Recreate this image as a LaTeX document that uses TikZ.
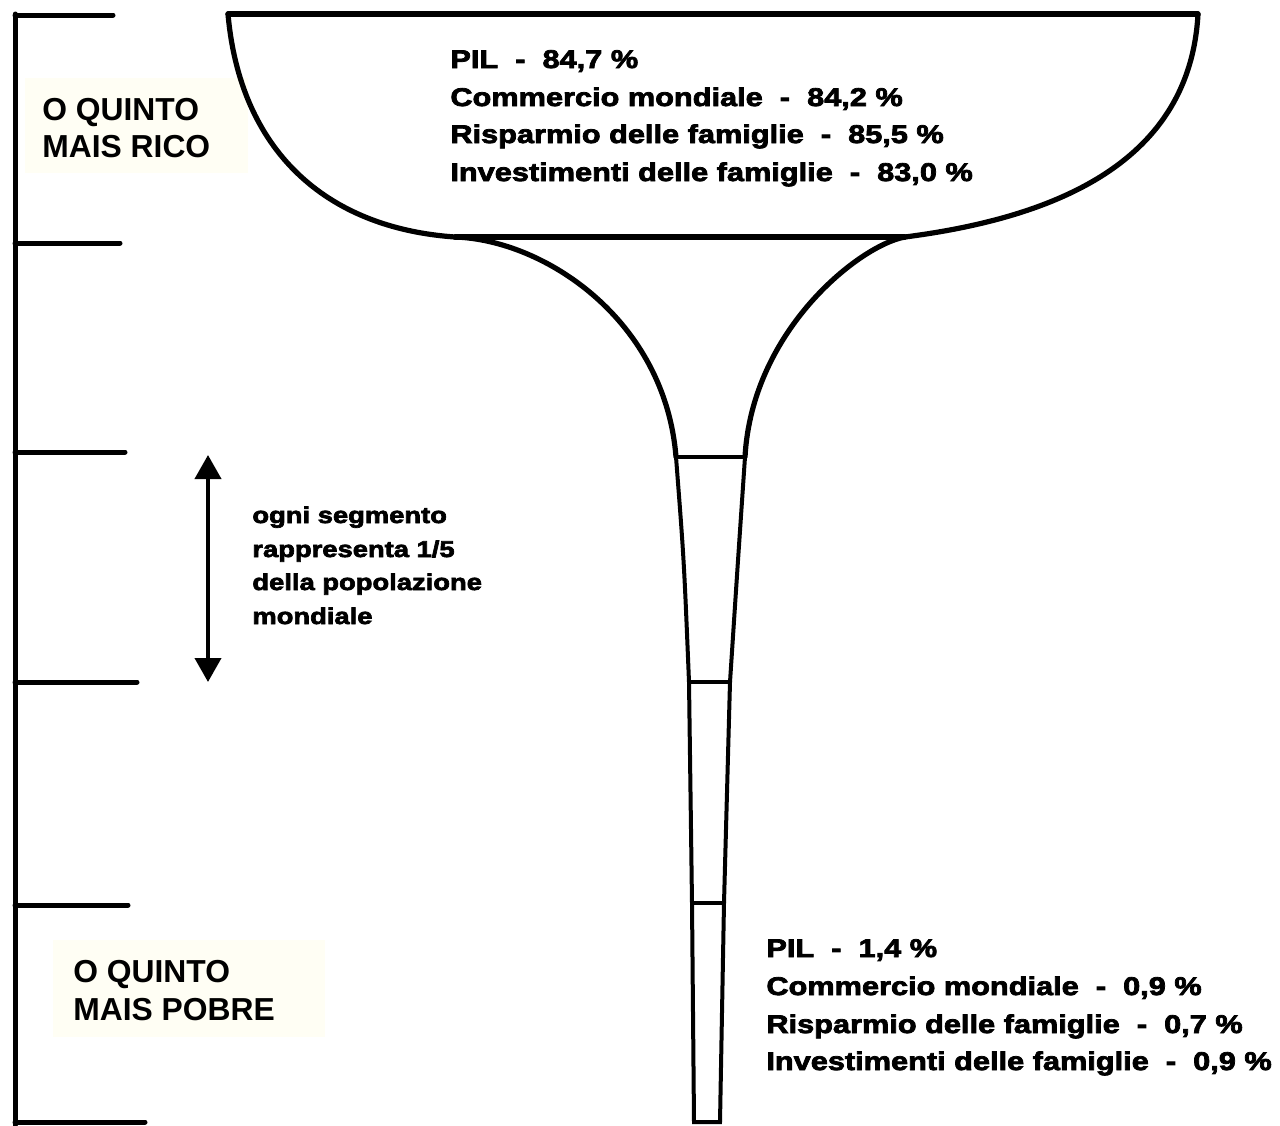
\documentclass[tikz,border=0pt]{standalone}
\usepackage{fontspec}
\setmainfont{Liberation Sans}
\newfontfamily\heavy[FakeBold=3,FakeStretch=1.2]{Liberation Sans Bold}
\usetikzlibrary{arrows.meta}
\definecolor{cream}{RGB}{255,254,244}
\begin{document}
\begin{tikzpicture}[x=0.5pt,y=-0.5pt,
  outline/.style={line width=2.6pt,line join=round,line cap=round},
  stemline/.style={line width=2pt,line cap=round},
  ruler/.style={line width=2.5pt,line cap=round},
  lst/.style={anchor=base west,inner sep=0pt,font=\heavy\fontsize{12.8}{12.8}\selectfont},
  note/.style={anchor=base west,inner sep=0pt,font=\heavy\fontsize{11.4}{11.4}\selectfont},
  qtext/.style={anchor=base west,inner sep=0pt,font=\bfseries\fontsize{15.9}{15.9}\selectfont}]
\useasboundingbox (0,0) rectangle (1280,1125);
\fill[white] (0,0) rectangle (1280,1125);
% ruler
\draw[ruler] (15,14) -- (15,1125);
\draw[ruler] (15,15) -- (113,15);
\draw[ruler] (15,243) -- (120,243);
\draw[ruler] (15,452) -- (125,452);
\draw[ruler] (15,682) -- (137,682);
\draw[ruler] (15,905) -- (128,905);
\draw[ruler] (15,1122) -- (145,1122);
% label boxes
\fill[cream] (25,78) rectangle (248,173);
\node[qtext] (rico1) at (42,120) {O QUINTO};
\node[qtext] (rico2) at (42,157) {MAIS RICO};
\fill[cream] (53,940) rectangle (325,1037);
\node[qtext] (pob1) at (73,982) {O QUINTO};
\node[qtext] (pob2) at (73,1020) {MAIS POBRE};
% funnel
\coordinate (tl) at (228,14);
\coordinate (tr) at (1198,14);
\coordinate (jl) at (455,237);
\coordinate (jr) at (905,237);
\coordinate (s1l) at (676,457);
\coordinate (s1r) at (745,457);
\coordinate (s2l) at (689,682);
\coordinate (s2r) at (730,682);
\coordinate (s3l) at (692,903);
\coordinate (s3r) at (724,903);
\coordinate (s4l) at (694,1122);
\coordinate (s4r) at (720,1122);
\draw[outline] (tl) -- (tr);
\draw[outline] (tl) .. controls (240,150) and (325,228) .. (jl)
  .. controls (545,240) and (665,320) .. (s1l);
\draw[outline] (tr) .. controls (1190,160) and (1060,217) .. (jr)
  .. controls (860,245) and (752,330) .. (s1r);
\draw[outline] (jl) -- (jr);
\draw[stemline] (s1l) .. controls (684,560) .. (s2l) -- (s3l) -- (s4l) -- (s4r) -- (s3r) -- (s2r) .. controls (738,560) .. (s1r);
\draw[stemline] (s1l) -- (s1r);
\draw[stemline] (s2l) -- (s2r);
\draw[stemline] (s3l) -- (s3r);
% texts
\node[lst] (t1) at (450,68) {PIL~~-~~84,7~\%};
\node[lst] (t2) at (450,106) {Commercio mondiale~~-~~84,2~\%};
\node[lst] (t3) at (450,143) {Risparmio delle famiglie~~-~~85,5~\%};
\node[lst] (t4) at (450,181) {Investimenti delle famiglie~~-~~83,0~\%};
\node[lst] (b1) at (766,957) {PIL~~-~~1,4~\%};
\node[lst] (b2) at (766,995) {Commercio mondiale~~-~~0,9~\%};
\node[lst] (b3) at (766,1033) {Risparmio delle famiglie~~-~~0,7~\%};
\node[lst] (b4) at (766,1070) {Investimenti delle famiglie~~-~~0,9~\%};
% arrow and note
\coordinate (atop) at (208,455);
\coordinate (abot) at (208,682);
\draw[line width=2pt,{Triangle[width=13pt,length=12pt]}-{Triangle[width=13pt,length=12pt]}] (atop) -- (abot);
\node[note] (n1) at (252,523) {ogni segmento};
\node[note] (n2) at (252,557) {rappresenta 1/5};
\node[note] (n3) at (252,590) {della popolazione};
\node[note] (n4) at (252,624) {mondiale};
\end{tikzpicture}
\end{document}
